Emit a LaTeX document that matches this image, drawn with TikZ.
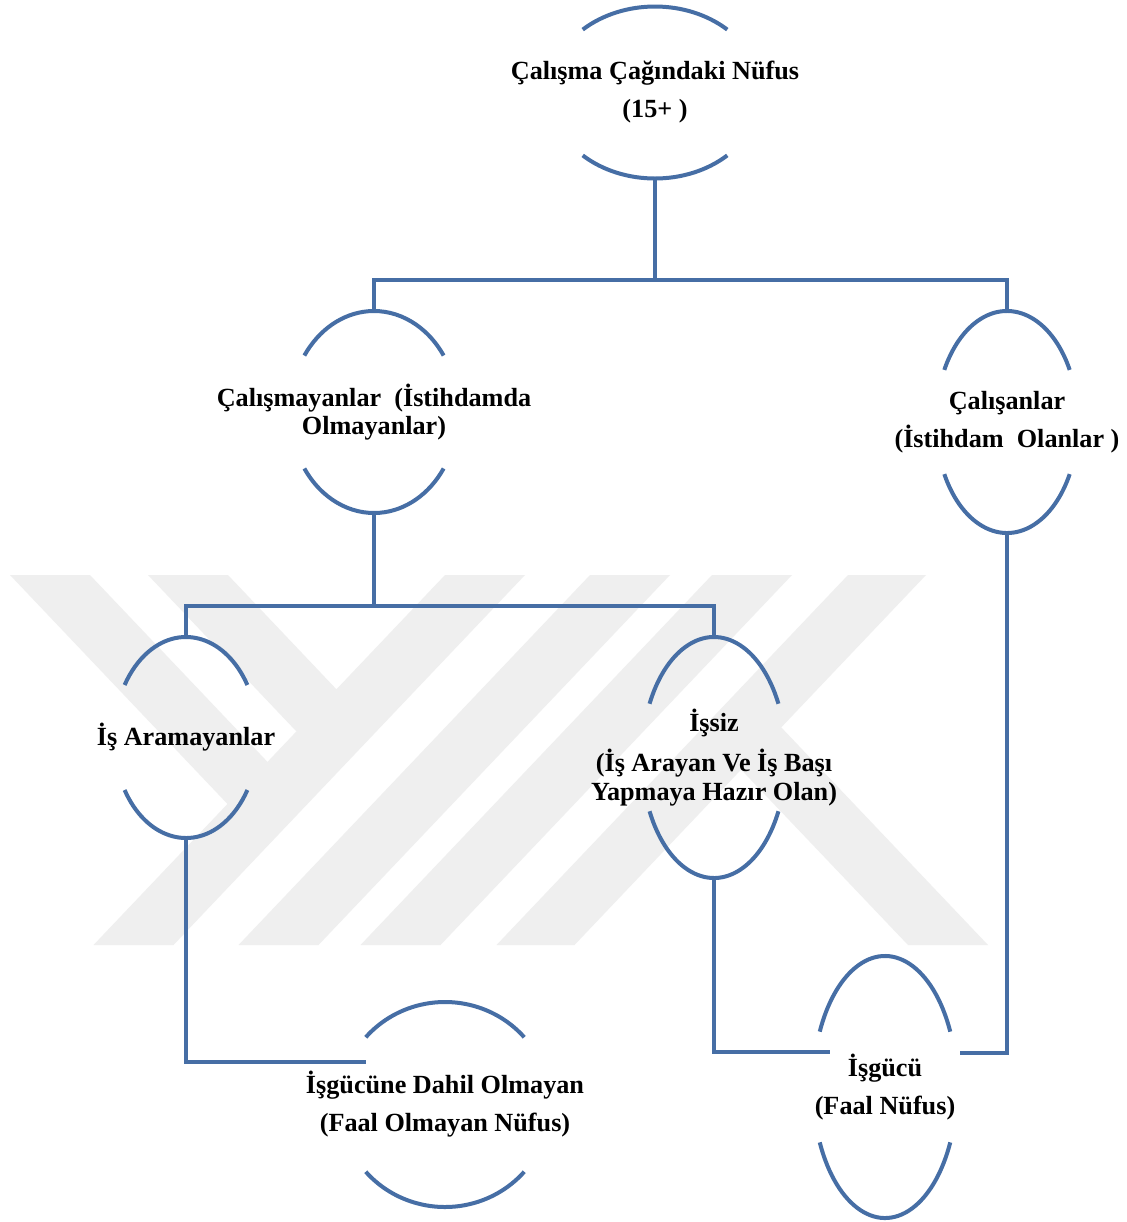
\documentclass[tikz,border=0pt]{standalone}
\usepackage{fontspec}
\setmainfont{Liberation Serif}
\usepackage{tikz}
\usetikzlibrary{calc,shapes.geometric}
\definecolor{linkblue}{HTML}{466EA5}
\definecolor{markgray}{HTML}{EFEFEF}

\newcommand{\ovalarcs}[4]{%
  \draw[link] ($(#1.center)+({#2*cos(#4)},{#3*sin(#4)})$) arc[start angle=#4, end angle=180-#4, x radius=#2, y radius=#3];
  \draw[link] ($(#1.center)+({-#2*cos(#4)},{-#3*sin(#4)})$) arc[start angle=180+#4, end angle=360-#4, x radius=#2, y radius=#3];}

\begin{document}
\begin{tikzpicture}[
  x=0.5pt, y=0.5pt,
  font=\fontsize{13.1}{14.3}\selectfont\bfseries,
  link/.style={draw=linkblue, line width=2pt},
  oval/.style 2 args={ellipse, minimum width={#1*1pt}, minimum height={#2*1pt}, inner sep=0pt, outer sep=0pt},
  caption/.style={align=center, inner sep=0pt}
]
\fill[white] (0,0) rectangle (1127,-1222);
\useasboundingbox (0,0) rectangle (1127,-1222);

\fill[markgray] (10,-575) -- (90,-575) -- (307.5,-804) -- (227.5,-804) -- cycle;
\fill[markgray] (148,-575) -- (228,-575) -- (376,-731) -- (296,-731) -- cycle;
\fill[markgray] (445,-575) -- (525,-575) -- (173.5,-945) -- (93.5,-945) -- cycle;
\fill[markgray] (590,-575) -- (670,-575) -- (318.5,-945) -- (238.5,-945) -- cycle;
\fill[markgray] (712,-575) -- (792,-575) -- (440.5,-945) -- (360.5,-945) -- cycle;
\fill[markgray] (848,-575) -- (926,-575) -- (574.5,-945) -- (496.5,-945) -- cycle;
\fill[markgray] (908,-945) -- (988,-945) -- (742,-686) -- (741,-769.5) -- cycle;

\node[oval={106}{86}] (nufus) at (655,-92.5) {};
\node[oval={84}{101}] (calismayan) at (374,-412) {};
\node[oval={71}{111}] (calisan) at (1007,-422) {};
\node[oval={72}{100.5}] (aramayan) at (186,-737.5) {};
\node[oval={72}{120.5}] (issiz) at (714,-757.5) {};
\node[oval={105}{102.5}] (dahil) at (445,-1104.5) {};
\node[oval={72}{131}] (isgucu) at (885,-1087) {};

\ovalarcs{nufus}{106}{86}{47}
\ovalarcs{calismayan}{84}{101}{34}
\ovalarcs{calisan}{71}{111}{28}
\ovalarcs{aramayan}{72}{100.5}{31.5}
\ovalarcs{issiz}{72}{120.5}{26.5}
\ovalarcs{dahil}{105}{102.5}{41}
\ovalarcs{isgucu}{72}{131}{25}

\node[caption] (nufus-txt) at (nufus) {Çalışma Çağındaki Nüfus\\[4.7pt](15+ )};
\node[caption] (calismayan-txt) at (calismayan) {Çalışmayanlar\ \ (İstihdamda\\Olmayanlar)};
\node[caption] (calisan-txt) at (calisan) {Çalışanlar\\[4.7pt](İstihdam\ \ Olanlar\ )};
\node[caption] (aramayan-txt) at (aramayan) {İş Aramayanlar};
\node[caption] (issiz-txt) at (issiz) {İşsiz\\[5.5pt](İş Arayan Ve İş\ Başı\\Yapmaya Hazır\ Olan)};
\node[caption] (dahil-txt) at (dahil) {İşgücüne Dahil\ Olmayan\\[4.7pt](Faal Olmayan\ Nüfus)};
\node[caption] (isgucu-txt) at (isgucu) {İşgücü\\[4.7pt](Faal Nüfus)};

\coordinate (split1) at (655,-280);
\coordinate (split2) at (374,-606);
\coordinate (dahil-in) at (366,-1062);
\coordinate (isgucu-left) at (830,-1051.5);
\coordinate (isgucu-right) at (960,-1053);

\draw[link] (nufus.south) -- (split1);
\draw[link] (calismayan.north) |- (split1) -| (calisan.north);
\draw[link] (calismayan.south) -- (split2);
\draw[link] (aramayan.north) |- (split2) -| (issiz.north);
\draw[link] (aramayan.south) |- (dahil-in);
\draw[link] (issiz.south) |- (isgucu-left);
\draw[link] (calisan.south) |- (isgucu-right);
\end{tikzpicture}
\end{document}
